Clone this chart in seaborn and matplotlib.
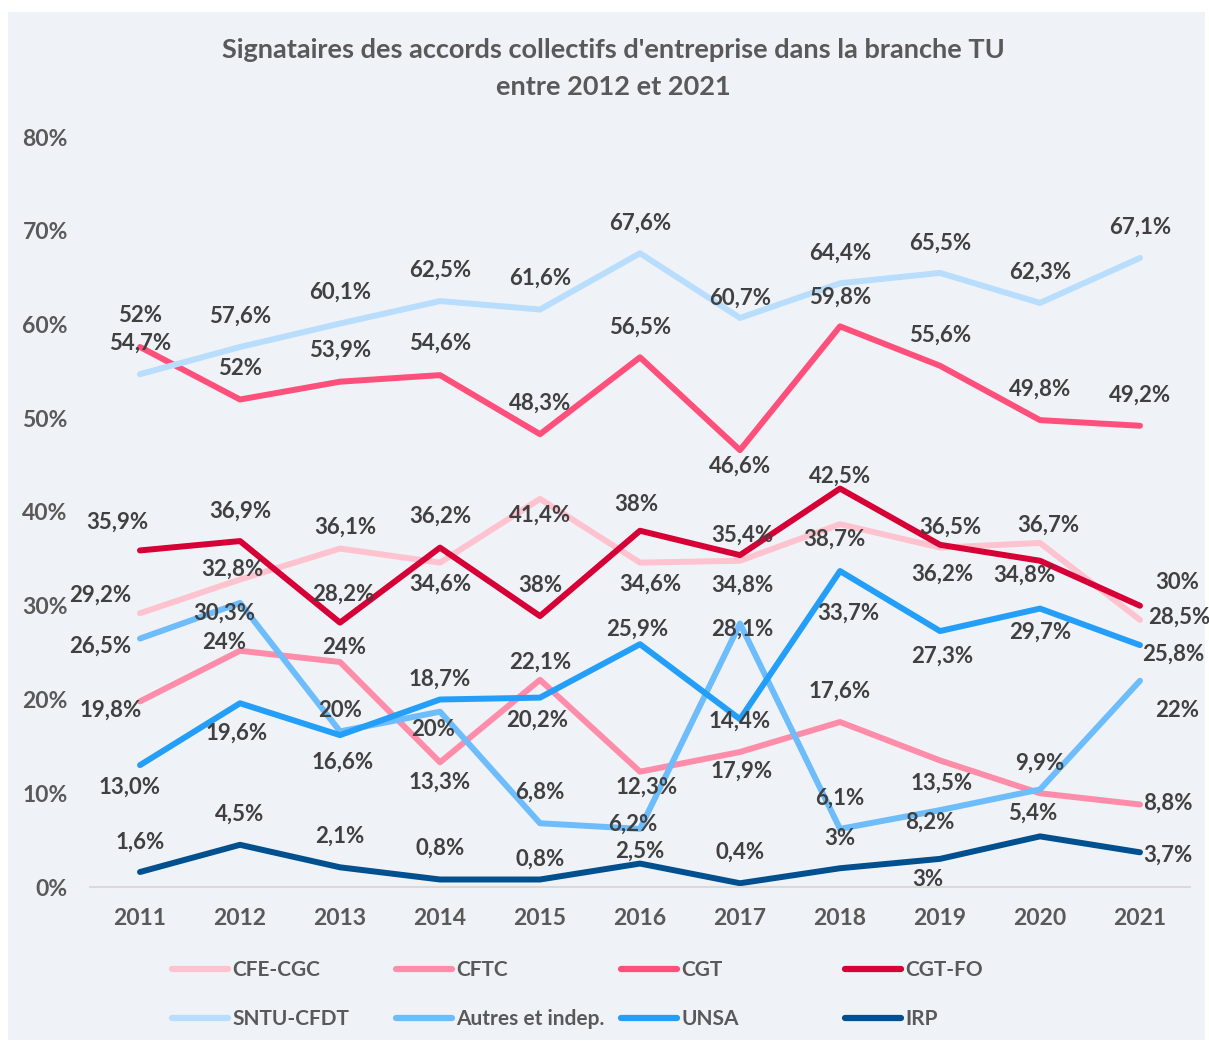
import matplotlib
matplotlib.use("Agg")
import matplotlib.pyplot as plt
import seaborn as sns
import pandas as pd
from matplotlib.patches import Rectangle
from matplotlib.lines import Line2D

# ---------------- data ----------------
years = [2011, 2012, 2013, 2014, 2015, 2016, 2017, 2018, 2019, 2020, 2021]
series_names = ["CFE-CGC", "CFTC", "CGT", "CGT-FO",
                "SNTU-CFDT", "Autres et indep.", "UNSA", "IRP"]

cfe_cgc = [29.2, 32.8, 36.1, 34.6, 41.4, 34.6, 34.8, 38.7, 36.2, 36.7, 28.5]
cftc = [19.8, 25.2, 24.0, 13.3, 22.1, 12.3, 14.4, 17.6, 13.5, 10.0, 8.8]
cgt = [57.6, 52.0, 53.9, 54.6, 48.3, 56.5, 46.6, 59.8, 55.6, 49.8, 49.2]
cgt_fo = [35.9, 36.9, 28.2, 36.2, 28.9, 38.0, 35.4, 42.5, 36.5, 34.8, 30.0]
sntu_cfdt = [54.7, 57.6, 60.1, 62.5, 61.6, 67.6, 60.7, 64.4, 65.5, 62.3, 67.1]
autres = [26.5, 30.3, 16.6, 18.7, 6.8, 6.2, 28.1, 6.2, 8.2, 10.4, 22.0]
unsa = [13.0, 19.6, 16.2, 20.0, 20.2, 25.9, 17.9, 33.7, 27.3, 29.7, 25.8]
irp = [1.6, 4.5, 2.1, 0.8, 0.8, 2.5, 0.4, 2.0, 3.0, 5.4, 3.7]

# data labels as printed on the chart
lbl_cfe_cgc = ["29,2%", "32,8%", "36,1%", "34,6%", "41,4%", "34,6%", "34,8%", "38,7%", "36,2%", "36,7%", "28,5%"]
lbl_cftc = ["19,8%", "24%", "24%", "13,3%", "22,1%", "12,3%", "17,9%", "17,6%", "13,5%", "9,9%", "8,8%"]
lbl_cgt = ["52%", "52%", "53,9%", "54,6%", "48,3%", "56,5%", "46,6%", "59,8%", "55,6%", "49,8%", "49,2%"]
lbl_cgt_fo = ["35,9%", "36,9%", "28,2%", "36,2%", "38%", "38%", "35,4%", "42,5%", "36,5%", "34,8%", "30%"]
lbl_sntu_cfdt = ["54,7%", "57,6%", "60,1%", "62,5%", "61,6%", "67,6%", "60,7%", "64,4%", "65,5%", "62,3%", "67,1%"]
lbl_autres = ["26,5%", "30,3%", "20%", "18,7%", "6,8%", "6,2%", "28,1%", "6,1%", "8,2%", "", "22%"]
lbl_unsa = ["13,0%", "19,6%", "16,6%", "20%", "20,2%", "25,9%", "14,4%", "33,7%", "27,3%", "29,7%", "25,8%"]
lbl_irp = ["1,6%", "4,5%", "2,1%", "0,8%", "0,8%", "2,5%", "0,4%", "3%", "3%", "5,4%", "3,7%"]

values = [cfe_cgc, cftc, cgt, cgt_fo, sntu_cfdt, autres, unsa, irp]
labels = [lbl_cfe_cgc, lbl_cftc, lbl_cgt, lbl_cgt_fo, lbl_sntu_cfdt, lbl_autres, lbl_unsa, lbl_irp]

# ---------------- styles / label placement ----------------
colors = {
    "CFE-CGC": "#ffc2cf",
    "CFTC": "#ff8ca8",
    "CGT": "#ff4f7b",
    "CGT-FO": "#d60036",
    "SNTU-CFDT": "#b8ddfd",
    "Autres et indep.": "#6dbcfb",
    "UNSA": "#239ffa",
    "IRP": "#00508f",
}

# label offsets in pixels (dx, dy) relative to each point (dy > 0 = above)
offsets = {
    "CFE-CGC": [(-40, 18), (-8, 10), (5, 21), (0, -22), (0, -16), (10, -22), (2, -24), (-6, -15), (2, -27), (8, 18), (39, 3)],
    "CFTC": [(-29, -9), (-16, 8), (4, 15), (0, -20), (0, 18), (7, -16), (2, -19), (0, 31), (2, -23), (0, 30), (28, 1)],
    "CGT": [(0, 32), (0, 31), (0, 31), (0, 32), (0, 31), (0, 30), (0, -16), (0, 29), (0, 31), (0, 31), (0, 31)],
    "CGT-FO": [(-23, 28), (0, 30), (3, 28), (0, 31), (0, 31), (-4, 26), (2, 20), (0, 12), (10, 18), (-16, -14), (37, 23)],
    "SNTU-CFDT": [(0, 31), (0, 31), (0, 31), (0, 31), (0, 31), (0, 30), (0, 20), (0, 30), (0, 30), (0, 31), (0, 31)],
    "Autres et indep.": [(-40, -8), (-16, -10), (0, 21), (0, 32), (0, 31), (-7, 5), (2, -6), (0, 31), (-10, -12), (0, 0), (37, -30)],
    "UNSA": [(-10, -22), (-3, -30), (3, -27), (-7, -30), (-3, -23), (-3, 15), (0, -2), (8, -42), (2, -25), (0, -24), (33, -9)],
    "IRP": [(0, 30), (0, 31), (0, 31), (0, 31), (0, 20), (0, 12), (0, 31), (0, 30), (-12, -21), (-7, 23), (28, -3)],
}

# long-form table for seaborn
rows = []
for name, vals in zip(series_names, values):
    for y, v in zip(years, vals):
        rows.append({"Année": y, "Valeur": v / 100.0, "Syndicat": name})
df = pd.DataFrame(rows)

# ---------------- figure ----------------
sns.set_theme(style="white")
plt.rcParams["font.family"] = ["Lato", "DejaVu Sans"]

W, H = 1209, 1045
fig = plt.figure(figsize=(W / 100, H / 100), dpi=100)
fig.patch.set_facecolor("white")
panel_color = "#eff3f7"
fig.add_artist(Rectangle((8 / W, 5 / H), (1205 - 8) / W, (1033 - 5) / H,
                         transform=fig.transFigure, facecolor=panel_color,
                         edgecolor="none", zorder=0))

ax = fig.add_axes([90 / W, (H - 887) / H, 1100 / W, 750 / H])
ax.set_facecolor("none")

sns.lineplot(data=df, x="Année", y="Valeur", hue="Syndicat",
             hue_order=series_names, palette=colors, linewidth=4.3,
             ax=ax, legend=False, solid_capstyle="round", solid_joinstyle="round")

ax.set_xlim(2010.5, 2021.5)
ax.set_ylim(0, 0.8)
ax.set_xticks(years)
ax.set_xticklabels([str(y) for y in years])
ax.set_yticks([i / 10 for i in range(9)])
ax.set_yticklabels([f"{i * 10}%" for i in range(9)])
ax.set_xlabel("")
ax.set_ylabel("")
for s in ["top", "right", "left"]:
    ax.spines[s].set_visible(False)
ax.spines["bottom"].set_color("#d9d9d9")
ax.spines["bottom"].set_linewidth(1.5)
ax.tick_params(axis="both", length=0, labelsize=16.5, labelcolor="#595959")
ax.tick_params(axis="y", pad=16)
ax.tick_params(axis="x", pad=15)
for t in ax.get_xticklabels() + ax.get_yticklabels():
    t.set_fontweight("bold")

# data labels
for name, vals, lbls in zip(series_names, values, labels):
    for y, v, txt, (dx, dy) in zip(years, vals, lbls, offsets[name]):
        if not txt:
            continue
        ax.annotate(txt, (y, v / 100.0), xytext=(dx, dy), textcoords="offset pixels",
                    ha="center", va="center", fontsize=16, fontweight="bold",
                    color="#404040", zorder=10, annotation_clip=False)

# title
fig.text(613 / W, 1 - 50 / H, "Signataires des accords collectifs d'entreprise dans la branche TU",
         ha="center", va="center", fontsize=19.5, fontweight="bold", color="#595959")
fig.text(613 / W, 1 - 87 / H, "entre 2012 et 2021",
         ha="center", va="center", fontsize=19.5, fontweight="bold", color="#595959")

# legend: 4 columns placed independently
col_x = [172, 396, 621, 845]
for j in range(4):
    names = [series_names[j], series_names[j + 4]]
    handles = [Line2D([0], [0], color=colors[n], lw=4.5, solid_capstyle="round") for n in names]
    leg = fig.legend(handles, names, loc="upper left",
                     bbox_to_anchor=(col_x[j] / W, 1 - 960 / H),
                     bbox_transform=fig.transFigure, frameon=False,
                     handlelength=2.7, handletextpad=0.2, labelspacing=1.4,
                     borderpad=0, borderaxespad=0, fontsize=15)
    for t in leg.get_texts():
        t.set_color("#595959")
        t.set_fontweight("bold")

fig.savefig("out.png", dpi=100, facecolor="white")
